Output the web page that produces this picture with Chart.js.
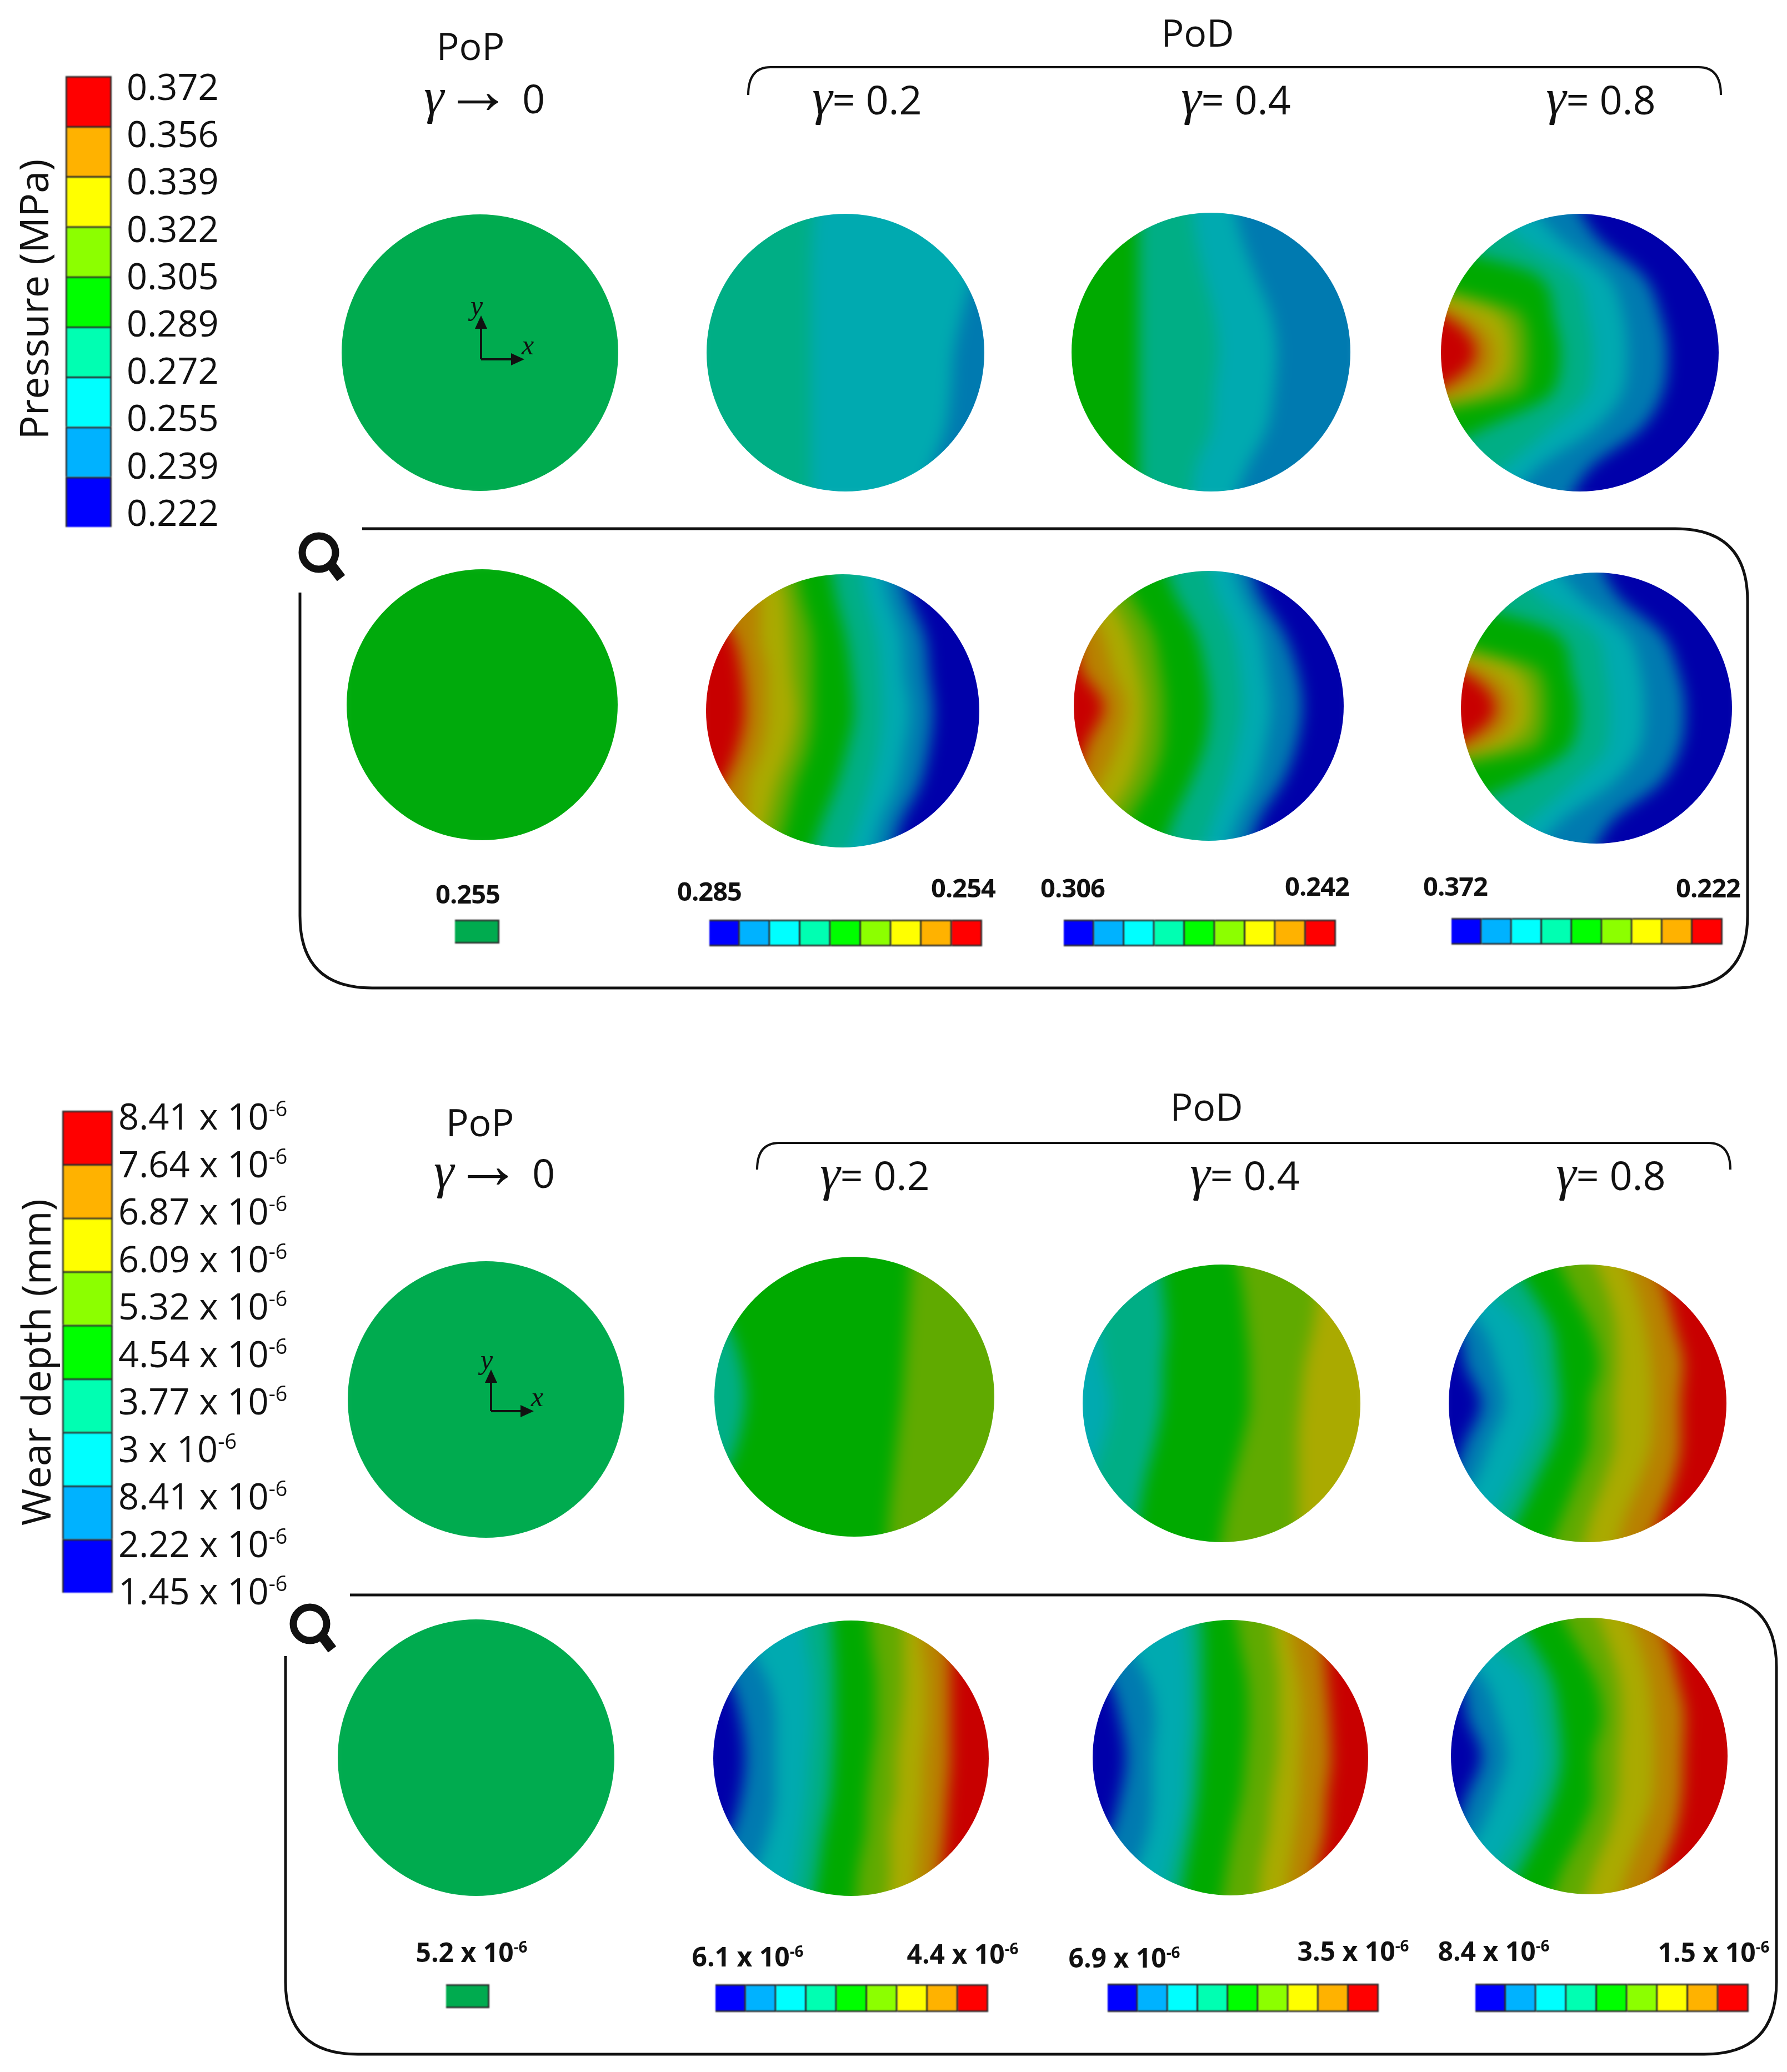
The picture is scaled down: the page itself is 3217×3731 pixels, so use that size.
<!DOCTYPE html>
<html>
<head>
<meta charset="utf-8">
<title>Pressure and wear depth</title>
<script src="https://cdn.jsdelivr.net/npm/chart.js@4/dist/chart.umd.js"></script>
<style>
    html, body { margin: 0; padding: 0; background: #fff; }
    #page { position: relative; width: 3217px; height: 3731px; overflow: hidden; background: #fff; }
    #lines { position: absolute; left: 0; top: 0; z-index: 5; }
    .disc { position: absolute; border-radius: 50%; overflow: hidden; }
    .disc canvas { position: absolute; filter: blur(14px); }
    .scale { position: absolute; filter: blur(1px); }
    .txt { position: absolute; white-space: nowrap; line-height: 1; color: #111; font-family: "Open Sans", sans-serif; z-index: 6; }
    .big { font-size: 68px; }
    .gam { font-size: 72px; }
    .tick { font-size: 65px; }
    .name { font-size: 72px; }
    .small { font-size: 47px; font-weight: 700; letter-spacing: -1px; }
    .smallx { font-size: 48px; font-weight: 700; }
    .txt sup { font-size: 58%; line-height: 0; vertical-align: 0.62em; }
    .serif { font-family: "Liberation Serif", serif; font-size: 92px; line-height: 0; }
    .arrow { font-family: "Liberation Serif", serif; font-size: 122px; line-height: 0; }
    .axisname { font-family: "Liberation Serif", serif; font-style: italic; font-size: 50px; }
</style>
</head>
<body>
<div id="page">
    <svg id="lines" width="3217" height="3731" fill="none" stroke="#111" stroke-width="5"></svg>
</div>
<script>
// rows of the contour tables, top of the disc to the bottom, in disc radii
const rowLabels = ["1.1", "0.825", "0.55", "0.275", "0", "-0.275", "-0.55", "-0.825", "-1.1"];

const discColors = ["#0000aa", "#007ab0", "#00aab0", "#00ae85", "#00aa00", "#60aa00", "#aaaa00", "#b88000", "#c80000"];
const scaleColors = ["#0000ff", "#00b2ff", "#00ffff", "#00ffb2", "#00ff00", "#8cff00", "#ffff00", "#ffb200", "#ff0000"];
const flatSwatch = "#00ab4f";
const flatGreen = "#00aa0c";

const pressureLabels = ["0.372", "0.356", "0.339", "0.322", "0.305", "0.289", "0.272", "0.255", "0.239", "0.222"];
const wearLabels = ["8.41", "7.64", "6.87", "6.09", "5.32", "4.54", "3.77", "3", "8.41", "2.22", "1.45"];
const bandUnits = [1, 1, 1, 1, 1, 1, 1, 1, 1];

// x of each colour change across the disc, per row
const pressureTopG02Bands = [3, 2, 1];
const pressureTopG02 = [
    [-.22, 1.05], [-.24, 1], [-.25, .92], [-.25, .84], [-.25, .78],
    [-.25, .76], [-.25, .72], [-.25, .62], [-.25, .52]
];
const pressureTopG04Bands = [4, 3, 2, 1];
const pressureTopG04 = [
    [-.52, -.14, .15], [-.52, -.11, .22], [-.52, -.05, .32], [-.52, .02, .43], [-.52, .05, .47],
    [-.52, .02, .45], [-.52, 0, .4], [-.52, -.11, .26], [-.52, -.14, .15]
];
const pressureFullBands = [8, 7, 6, 5, 4, 3, 2, 1, 0];
const pressureTopG08 = [
    [-2, -2, -1.9, -1.8, -1.6, -.7, -.4, -.05],
    [-2, -1.9, -1.8, -1.6, -1.2, -.45, -.15, .13],
    [-1.8, -1.6, -1.4, -1.3, -.3, -.04, .2, .46],
    [-1, -.84, -.58, -.42, -.19, .05, .31, .58],
    [-.75, -.62, -.49, -.37, -.14, .09, .34, .63],
    [-1.05, -.83, -.65, -.42, -.19, .06, .31, .6],
    [-1.9, -1.8, -1.7, -1.6, -.7, -.22, .1, .44],
    [-2, -1.9, -1.8, -1.7, -1.3, -.55, -.3, .08],
    [-2, -2, -1.9, -1.8, -1.6, -.9, -.55, -.1]
];
const pressureMeshG02 = [
    [-1.2, -.75, -.5, -.36, -.1, .12, .28, .42],
    [-1, -.61, -.42, -.3, -.05, .17, .34, .49],
    [-.81, -.61, -.39, -.23, .02, .24, .43, .6],
    [-.74, -.56, -.37, -.22, .06, .27, .45, .63],
    [-.72, -.56, -.34, -.22, .08, .28, .49, .66],
    [-.77, -.6, -.39, -.255, .03, .255, .45, .63],
    [-.89, -.7, -.49, -.35, -.05, .19, .39, .56],
    [-1.1, -.72, -.56, -.42, -.16, .1, .27, .42],
    [-1.3, -.85, -.65, -.5, -.25, 0, .2, .35]
];
const pressureMeshG04 = [
    [-1.4, -1.1, -.9, -.7, -.35, -.02, .15, .3],
    [-1.2, -.95, -.75, -.58, -.25, .05, .25, .38],
    [-1, -.8, -.6, -.42, -.1, .17, .38, .55],
    [-.95, -.72, -.52, -.36, -.03, .22, .43, .65],
    [-.78, -.62, -.48, -.33, 0, .24, .46, .69],
    [-.9, -.68, -.5, -.34, -.03, .2, .42, .65],
    [-1, -.8, -.58, -.42, -.13, .13, .35, .55],
    [-1.2, -.95, -.75, -.58, -.26, .03, .22, .38],
    [-1.4, -1.1, -.9, -.7, -.36, -.07, .12, .28]
];
const pressureMeshG08 = [
    [-2, -2, -1.9, -1.8, -1.5, -.65, -.35, 0],
    [-2, -1.9, -1.8, -1.6, -1.1, -.42, -.12, .16],
    [-1.8, -1.6, -1.4, -1.3, -.3, -.02, .22, .48],
    [-1, -.82, -.58, -.42, -.19, .06, .32, .6],
    [-.75, -.62, -.49, -.37, -.14, .09, .35, .65],
    [-1.05, -.85, -.68, -.44, -.19, .07, .32, .62],
    [-1.9, -1.8, -1.7, -1.6, -.6, -.18, .12, .47],
    [-2, -1.9, -1.8, -1.7, -1.2, -.5, -.26, .12],
    [-2, -2, -1.9, -1.8, -1.5, -.8, -.5, -.05]
];
const wearTopG02Bands = [3, 4, 5];
const wearTopG02 = [
    [-1.2, .42], [-1.1, .4], [-.92, .38], [-.82, .36], [-.78, .34],
    [-.82, .31], [-.92, .28], [-1.1, .25], [-1.2, .23]
];
const wearTopG04Bands = [2, 3, 4, 5, 6];
const wearTopG04 = [
    [-1.3, -.45, .1, .75], [-1.1, -.42, .15, .7], [-.9, -.4, .18, .66], [-.85, -.42, .2, .6], [-.8, -.43, .2, .57],
    [-.85, -.48, .15, .55], [-.95, -.55, .08, .55], [-1.1, -.6, .02, .55], [-1.3, -.65, -.02, .55]
];
const wearFullBands = [0, 1, 2, 3, 4, 5, 6, 7, 8];
const wearTopG08 = [
    [-1.5, -1.3, -1, -.6, -.25, .02, .25, .45],
    [-1.3, -1, -.72, -.42, -.12, .13, .35, .56],
    [-.95, -.76, -.45, -.26, .02, .2, .42, .63],
    [-.88, -.66, -.39, -.22, .08, .21, .46, .69],
    [-.77, -.6, -.34, -.2, .02, .19, .47, .67],
    [-.88, -.7, -.42, -.25, .01, .19, .46, .67],
    [-1, -.81, -.54, -.37, -.08, .12, .38, .62],
    [-1.3, -1, -.68, -.5, -.19, .02, .27, .52],
    [-1.5, -1.2, -.85, -.65, -.3, -.05, .2, .42]
];
const wearMeshG02 = [
    [-1.2, -.9, -.35, -.15, .13, .38, .5, .7],
    [-1.05, -.75, -.32, -.13, .15, .38, .52, .72],
    [-.88, -.6, -.28, -.12, .18, .38, .55, .72],
    [-.8, -.55, -.28, -.12, .18, .36, .55, .72],
    [-.77, -.55, -.3, -.13, .15, .33, .53, .72],
    [-.8, -.55, -.32, -.15, .12, .32, .52, .7],
    [-.88, -.6, -.36, -.2, .1, .28, .5, .68],
    [-1.05, -.7, -.4, -.24, .05, .28, .48, .65],
    [-1.2, -.85, -.45, -.28, .03, .25, .45, .62]
];
const wearMeshG04 = [
    [-1.2, -.9, -.35, -.22, .03, .3, .42, .65],
    [-1.05, -.75, -.32, -.2, .07, .32, .45, .68],
    [-.88, -.6, -.3, -.2, .12, .35, .5, .7],
    [-.8, -.55, -.3, -.2, .13, .35, .52, .72],
    [-.76, -.57, -.32, -.22, .11, .34, .51, .73],
    [-.8, -.57, -.33, -.24, .08, .3, .5, .7],
    [-.88, -.6, -.38, -.28, .02, .27, .47, .68],
    [-1.05, -.7, -.45, -.33, -.03, .22, .43, .62],
    [-1.2, -.85, -.5, -.37, -.07, .2, .4, .58]
];
const wearMeshG08 = [
    [-1.5, -1.3, -1, -.6, -.25, .02, .25, .45],
    [-1.3, -1, -.72, -.42, -.1, .13, .36, .57],
    [-.95, -.76, -.44, -.27, .04, .21, .43, .64],
    [-.88, -.66, -.38, -.22, .09, .23, .46, .69],
    [-.78, -.6, -.34, -.2, .03, .21, .47, .68],
    [-.88, -.68, -.4, -.25, .03, .2, .46, .67],
    [-1, -.8, -.52, -.36, -.06, .14, .38, .62],
    [-1.3, -1, -.68, -.5, -.2, .03, .28, .52],
    [-1.5, -1.2, -.85, -.65, -.3, -.05, .2, .42]
];

const page = document.getElementById("page");
const lines = document.getElementById("lines");
const DISC_MARGIN = 1.1;

function addDisc(cx, cy, r, bands, rows, colors) {
    const holder = document.createElement("div");
    holder.className = "disc";
    holder.style.cssText = `left:${cx - r}px;top:${cy - r}px;width:${2 * r}px;height:${2 * r}px`;
    const canvas = document.createElement("canvas");
    const size = Math.round(2 * r * DISC_MARGIN);
    canvas.width = size;
    canvas.height = size;
    canvas.style.left = (r - size / 2) + "px";
    canvas.style.top = (r - size / 2) + "px";
    holder.appendChild(canvas);
    page.appendChild(holder);

    // first band starts off the left side of the disc, every later one paints over it to the right
    const datasets = bands.map((band, i) => ({
        data: rowLabels.map((_, k) => (i === 0 ? -DISC_MARGIN : rows[k][i - 1])),
        backgroundColor: colors[band],
        borderWidth: 0,
        pointRadius: 0,
        cubicInterpolationMode: "monotone",
        fill: { value: DISC_MARGIN },
        order: -i
    }));

    new Chart(canvas, {
        type: "line",
        data: { labels: rowLabels, datasets: datasets },
        options: {
            indexAxis: "y",
            responsive: false,
            animation: false,
            events: [],
            layout: { padding: 0 },
            plugins: { legend: { display: false }, tooltip: { enabled: false } },
            scales: {
                x: { type: "linear", min: -DISC_MARGIN, max: DISC_MARGIN, display: false },
                y: { type: "category", display: false }
            }
        }
    });
}

function addScale(left, top, width, height, horizontal, units, colors) {
    const canvas = document.createElement("canvas");
    canvas.className = "scale";
    canvas.width = width;
    canvas.height = height;
    canvas.style.left = left + "px";
    canvas.style.top = top + "px";
    page.appendChild(canvas);

    const datasets = units.map((unit, i) => ({
        data: [unit],
        backgroundColor: colors[i],
        borderColor: "#2b2b2b",
        borderWidth: 3,
        barPercentage: 1,
        categoryPercentage: 1
    }));
    const valueAxis = { stacked: true, min: 0, max: units.length, display: false };
    const bandAxis = { stacked: true, display: false };

    new Chart(canvas, {
        type: "bar",
        data: { labels: ["scale"], datasets: datasets },
        options: {
            indexAxis: horizontal ? "y" : "x",
            responsive: false,
            animation: false,
            events: [],
            layout: { padding: 0 },
            plugins: { legend: { display: false }, tooltip: { enabled: false } },
            scales: horizontal ? { x: valueAxis, y: bandAxis } : { x: bandAxis, y: valueAxis }
        }
    });
}

// x,y is the middle of the text unless left is set
function addText(html, x, y, cls, left) {
    const el = document.createElement("div");
    el.className = "txt " + cls;
    el.innerHTML = html;
    el.style.left = x + "px";
    el.style.top = y + "px";
    el.style.transform = left ? "translate(0,-50%)" : "translate(-50%,-50%)";
    page.appendChild(el);
    return el;
}

function addPath(d, width, filled) {
    const path = document.createElementNS("http://www.w3.org/2000/svg", "path");
    path.setAttribute("d", d);
    if (width) path.setAttribute("stroke-width", width);
    if (filled) {
        path.setAttribute("fill", "#111");
        path.setAttribute("stroke", "none");
    }
    lines.appendChild(path);
}

function addGammaRow(y, gammaXs) {
    gammaXs.forEach(g => {
        addText(`<span class="serif"><i>γ</i></span>= ${g.value}`, g.x, y, "gam");
    });
}

function addLimitText(x, y) {
    addText(`<span class="serif"><i>γ</i></span><span class="arrow">→</span> 0`, x, y, "gam");
}

function addAxes(ox, oy, yTip, xTip) {
    addPath(`M${ox},${oy} V${yTip + 22} M${ox},${oy} H${xTip - 22}`, 4);
    addPath(`M${ox},${yTip} l-11,24 h22 Z M${xTip},${oy} l-24,-11 v22 Z`, 0, true);
    addText("y", ox - 8, yTip - 18, "axisname");
    addText("x", xTip + 6, oy - 26, "axisname");
}

function addFrame(left, top, right, bottom, topStart, leftStart) {
    const r = 130;
    addPath(`M${topStart},${top} H${right - r} Q${right},${top} ${right},${top + r} V${bottom - r} ` +
        `Q${right},${bottom} ${right - r},${bottom} H${left + r} Q${left},${bottom} ${left},${bottom - r} V${leftStart}`, 5);
}

function addBracket(left, right, top, bottom) {
    addPath(`M${left},${bottom} Q${left},${top} ${left + 40},${top} H${right - 40} Q${right},${top} ${right},${bottom}`, 4);
}

function addLens(cx, cy) {
    const circle = document.createElementNS("http://www.w3.org/2000/svg", "circle");
    circle.setAttribute("cx", cx);
    circle.setAttribute("cy", cy);
    circle.setAttribute("r", 30);
    circle.setAttribute("stroke-width", 13);
    lines.appendChild(circle);
    addPath(`M${cx + 22},${cy + 22} L${cx + 40},${cy + 46}`, 18);
}

// upper panel: pressure
addScale(118, 137, 83, 812, false, bandUnits, scaleColors);
pressureLabels.forEach((label, i) => addText(label, 228, 155 + i * 85.2, "tick", true));
addText("Pressure (MPa)", 59, 539, "name").style.transform = "translate(-50%,-50%) rotate(-90deg)";

addText("PoP", 847, 82, "big");
addLimitText(872, 176);
addText("PoD", 2156, 58, "big");
addBracket(1347, 3098, 121, 171);
addGammaRow(178, [{ x: 1561, value: "0.2" }, { x: 2225, value: "0.4" }, { x: 2882, value: "0.8" }]);

addDisc(864, 635, 249, [0], [], [flatSwatch]);
addDisc(1522, 635, 250, pressureTopG02Bands, pressureTopG02, discColors);
addDisc(2180, 634, 251, pressureTopG04Bands, pressureTopG04, discColors);
addDisc(2844, 635, 250, pressureFullBands, pressureTopG08, discColors);
addAxes(866, 647, 568, 944);

addFrame(540, 952, 3146, 1779, 652, 1067);
addLens(574, 995);
addDisc(868, 1269, 244, [0], [], [flatGreen]);
addDisc(1517, 1280, 246, pressureFullBands, pressureMeshG02, discColors);
addDisc(2176, 1271, 243, pressureFullBands, pressureMeshG04, discColors);
addDisc(2874, 1275, 244, pressureFullBands, pressureMeshG08, discColors);

addText("0.255", 842, 1609, "small");
addText("0.285", 1277, 1604, "small");
addText("0.254", 1734, 1598, "small");
addText("0.306", 1931, 1598, "small");
addText("0.242", 2371, 1595, "small");
addText("0.372", 2620, 1595, "small");
addText("0.222", 3075, 1598, "small");
addScale(819, 1656, 80, 43, true, [1], [flatSwatch]);
addScale(1277, 1656, 491, 48, true, bandUnits, scaleColors);
addScale(1915, 1656, 490, 48, true, bandUnits, scaleColors);
addScale(2613, 1653, 488, 48, true, bandUnits, scaleColors);

// lower panel: wear depth
addScale(112, 2000, 91, 868, false, bandUnits, scaleColors);
wearLabels.forEach((label, i) => addText(`${label} x 10<sup>-6</sup>`, 213, 2009 + i * 85.5, "tick", true));
addText("Wear depth (mm)", 63, 2453, "name").style.transform = "translate(-50%,-50%) rotate(-90deg)";

addText("PoP", 864, 2020, "big");
addLimitText(890, 2111);
addText("PoD", 2172, 1992, "big");
addBracket(1363, 3115, 2058, 2106);
addGammaRow(2115, [{ x: 1575, value: "0.2" }, { x: 2241, value: "0.4" }, { x: 2900, value: "0.8" }]);

addDisc(875, 2520, 249, [0], [], [flatSwatch]);
addDisc(1538, 2515, 252, wearTopG02Bands, wearTopG02, discColors);
addDisc(2199, 2527, 250, wearTopG04Bands, wearTopG04, discColors);
addDisc(2858, 2527, 250, wearFullBands, wearTopG08, discColors);
addAxes(884, 2541, 2466, 961);

addFrame(514, 2872, 3198, 3699, 630, 2982);
addLens(558, 2924);
addDisc(857, 3165, 249, [0], [], [flatSwatch]);
addDisc(1532, 3166, 248, wearFullBands, wearMeshG02, discColors);
addDisc(2215, 3165, 248, wearFullBands, wearMeshG04, discColors);
addDisc(2861, 3162, 249, wearFullBands, wearMeshG08, discColors);

addText("5.2 x 10<sup>-6</sup>", 849, 3515, "smallx");
addText("6.1 x 10<sup>-6</sup>", 1346, 3523, "smallx");
addText("4.4 x 10<sup>-6</sup>", 1733, 3518, "smallx");
addText("6.9 x 10<sup>-6</sup>", 2024, 3525, "smallx");
addText("3.5 x 10<sup>-6</sup>", 2436, 3513, "smallx");
addText("8.4 x 10<sup>-6</sup>", 2689, 3513, "smallx");
addText("1.5 x 10<sup>-6</sup>", 3085, 3515, "smallx");
addScale(803, 3573, 78, 43, true, [1], [flatSwatch]);
addScale(1288, 3573, 491, 50, true, bandUnits, scaleColors);
addScale(1994, 3572, 488, 51, true, bandUnits, scaleColors);
addScale(2656, 3572, 492, 51, true, bandUnits, scaleColors);
</script>
</body>
</html>
